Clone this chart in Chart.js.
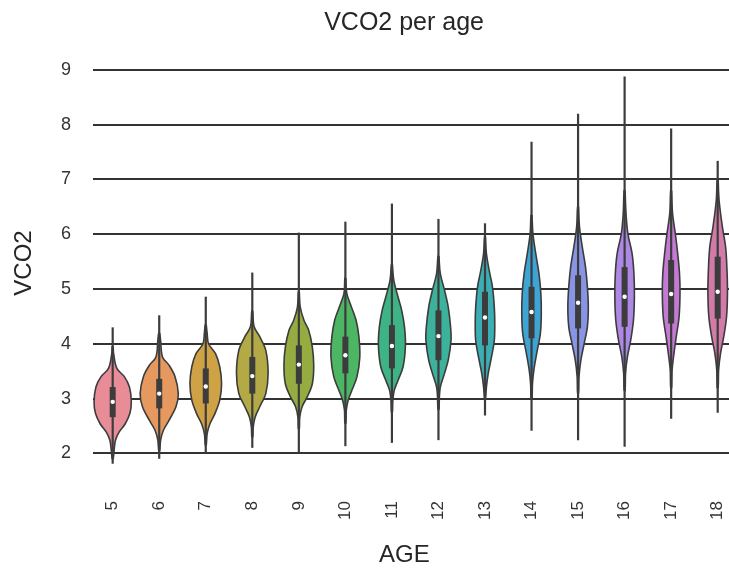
<!DOCTYPE html>
<html>
<head>
<meta charset="utf-8">
<script src="https://cdn.jsdelivr.net/npm/chart.js@4.4.1/dist/chart.umd.min.js"></script>
<style>
    html, body { margin: 0; padding: 0; background: #fff; }
</style>
</head>
<body>
<canvas id="vco2AgeChart" width="729" height="570"></canvas>
<script>
// --- Data ---
const ages = [5, 6, 7, 8, 9, 10, 11, 12, 13, 14, 15, 16, 17, 18];
const yTicks = [2, 3, 4, 5, 6, 7, 8, 9];

const whiskerLow  = [1.81, 1.90, 2.00, 2.10, 2.00, 2.13, 2.19, 2.24, 2.69, 2.41, 2.24, 2.12, 2.63, 2.74];
const whiskerHigh = [4.30, 4.52, 4.86, 5.30, 6.03, 6.23, 6.56, 6.28, 6.20, 7.69, 8.20, 8.88, 7.93, 7.34];
const q1      = [2.66, 2.82, 2.91, 3.09, 3.27, 3.46, 3.55, 3.70, 3.97, 4.10, 4.28, 4.31, 4.37, 4.46];
const medians = [2.94, 3.09, 3.22, 3.41, 3.62, 3.79, 3.96, 4.14, 4.48, 4.58, 4.75, 4.86, 4.91, 4.95];
const q3      = [3.21, 3.36, 3.55, 3.76, 3.97, 4.13, 4.34, 4.61, 4.95, 5.04, 5.25, 5.40, 5.53, 5.59];

// violin half-width (in age units) at VCO2 levels, top to bottom
const densityProfiles = [
    [[3.95,0.01],[3.82,0.02],[3.55,0.09],[3.40,0.25],[3.21,0.36],[2.94,0.40],[2.73,0.37],[2.54,0.27],[2.39,0.14],[2.24,0.06],[2.05,0.03],[1.90,0.01]],
    [[4.20,0.01],[4.06,0.03],[3.76,0.07],[3.61,0.21],[3.40,0.34],[3.09,0.41],[2.85,0.36],[2.60,0.21],[2.42,0.09],[2.24,0.03],[2.05,0.01]],
    [[4.35,0.01],[4.19,0.03],[4.00,0.06],[3.82,0.21],[3.58,0.30],[3.27,0.34],[2.97,0.30],[2.73,0.20],[2.54,0.09],[2.36,0.03],[2.15,0.01]],
    [[4.60,0.01],[4.31,0.04],[4.13,0.16],[3.88,0.29],[3.46,0.34],[3.09,0.29],[2.85,0.16],[2.66,0.06],[2.48,0.02],[2.30,0.01]],
    [[4.95,0.01],[4.67,0.03],[4.43,0.11],[4.25,0.21],[3.94,0.29],[3.61,0.32],[3.27,0.29],[3.03,0.18],[2.85,0.07],[2.66,0.02],[2.45,0.01]],
    [[5.20,0.01],[4.92,0.03],[4.67,0.13],[4.43,0.23],[4.13,0.29],[3.76,0.31],[3.40,0.25],[3.15,0.14],[2.97,0.06],[2.79,0.02],[2.55,0.01]],
    [[5.45,0.01],[5.16,0.04],[4.86,0.13],[4.61,0.21],[4.31,0.27],[3.97,0.29],[3.58,0.24],[3.33,0.13],[3.15,0.05],[2.97,0.02],[2.75,0.01]],
    [[5.60,0.01],[5.28,0.04],[4.98,0.13],[4.67,0.21],[4.31,0.26],[4.06,0.27],[3.70,0.21],[3.46,0.13],[3.21,0.04],[3.03,0.02],[2.80,0.01]],
    [[5.95,0.01],[5.65,0.03],[5.34,0.09],[5.04,0.16],[4.67,0.20],[4.37,0.21],[4.06,0.20],[3.76,0.14],[3.46,0.07],[3.21,0.03],[3.00,0.01]],
    [[6.35,0.01],[6.01,0.03],[5.65,0.09],[5.28,0.16],[4.92,0.20],[4.55,0.21],[4.19,0.19],[3.82,0.11],[3.52,0.05],[3.27,0.02],[3.00,0.01]],
    [[6.50,0.01],[6.14,0.03],[5.77,0.09],[5.40,0.16],[5.04,0.20],[4.67,0.22],[4.31,0.20],[4.00,0.13],[3.70,0.06],[3.40,0.02],[3.10,0.01]],
    [[6.80,0.01],[6.38,0.03],[6.01,0.07],[5.65,0.16],[5.28,0.20],[4.86,0.21],[4.43,0.19],[4.06,0.13],[3.76,0.06],[3.46,0.02],[3.15,0.01]],
    [[6.80,0.01],[6.38,0.03],[6.01,0.09],[5.65,0.14],[5.28,0.18],[4.92,0.19],[4.49,0.17],[4.13,0.11],[3.82,0.06],[3.52,0.02],[3.20,0.01]],
    [[7.00,0.01],[6.62,0.03],[6.14,0.10],[5.77,0.17],[5.34,0.20],[4.92,0.21],[4.49,0.19],[4.13,0.13],[3.82,0.06],[3.52,0.02],[3.20,0.01]]
];

const violinColors = [
    '#e88d98', '#e5995f', '#cfa246', '#b3a945', '#95ad40', '#4cb665', '#3eb386',
    '#3cb29d', '#3aaeb2', '#3ea4d4', '#8894e4', '#ad88e4', '#c47ad2', '#d27aa8'
];

const edgeColor = '#3c3c3c';
const fontFamily = "'Liberation Sans', Arial, sans-serif";

// --- Datasets ---
const datasets = [];

ages.forEach((age, i) => {
    const prof = densityProfiles[i];
    const right = prof.map(([v, w]) => ({ x: age + w, y: v }));
    const left = prof.slice().reverse().map(([v, w]) => ({ x: age - w, y: v }));
    const outline = right.concat(left, [right[0]]);

    // violin body
    datasets.push({
        data: outline,
        showLine: true,
        fill: 'shape',
        backgroundColor: violinColors[i],
        borderColor: edgeColor,
        borderWidth: 1.6,
        tension: 0.35,
        pointRadius: 0,
        order: 4
    });
    // whisker (full range)
    datasets.push({
        data: [{ x: age, y: whiskerLow[i] }, { x: age, y: whiskerHigh[i] }],
        showLine: true,
        borderColor: edgeColor,
        borderWidth: 2.2,
        pointRadius: 0,
        order: 3
    });
    // IQR box
    datasets.push({
        data: [{ x: age, y: q1[i] }, { x: age, y: q3[i] }],
        showLine: true,
        borderColor: edgeColor,
        borderWidth: 6,
        borderCapStyle: 'butt',
        pointRadius: 0,
        order: 2
    });
});

// medians
datasets.push({
    data: ages.map((age, i) => ({ x: age, y: medians[i] })),
    showLine: false,
    pointRadius: 2.2,
    pointBackgroundColor: '#ffffff',
    pointBorderWidth: 0,
    order: 1
});

// --- Chart ---
const ctx = document.getElementById('vco2AgeChart').getContext('2d');
new Chart(ctx, {
    type: 'scatter',
    data: { datasets: datasets },
    options: {
        responsive: false,
        animation: false,
        layout: { padding: 0, autoPadding: false },
        plugins: {
            legend: { display: false },
            tooltip: { enabled: false },
            title: {
                display: true,
                fullSize: false,
                text: 'VCO2 per age  ',
                color: '#262626',
                font: { family: fontFamily, size: 25, weight: 'normal' },
                padding: { top: 8, bottom: 21 }
            }
        },
        scales: {
            x: {
                type: 'linear',
                min: 4.577,
                max: 18.243,
                afterBuildTicks: scale => { scale.ticks = ages.map(v => ({ value: v })); },
                afterFit: scale => {
                    scale.height = 103;
                    scale.paddingLeft = 0;
                    scale.paddingRight = 0;
                },
                grid: { display: false, drawTicks: false },
                border: { display: false },
                ticks: {
                    autoSkip: false,
                    minRotation: 90,
                    maxRotation: 90,
                    padding: 34,
                    color: '#333',
                    font: { family: fontFamily, size: 17 },
                    callback: v => String(v)
                },
                title: {
                    display: true,
                    text: 'AGE  ',
                    color: '#262626',
                    font: { family: fontFamily, size: 24 },
                    padding: { top: 0, bottom: 0 }
                }
            },
            y: {
                min: 1.75,
                max: 9.2,
                afterBuildTicks: scale => { scale.ticks = yTicks.map(v => ({ value: v })); },
                afterFit: scale => { scale.width = 93; },
                grid: { color: '#333', lineWidth: 2, drawTicks: false },
                border: { display: false },
                ticks: {
                    padding: 22,
                    color: '#333',
                    font: { family: fontFamily, size: 18 }
                },
                title: {
                    display: true,
                    text: 'VCO2',
                    color: '#262626',
                    font: { family: fontFamily, size: 24 },
                    padding: { top: 10, bottom: 0 }
                }
            }
        }
    }
});
</script>
</body>
</html>
